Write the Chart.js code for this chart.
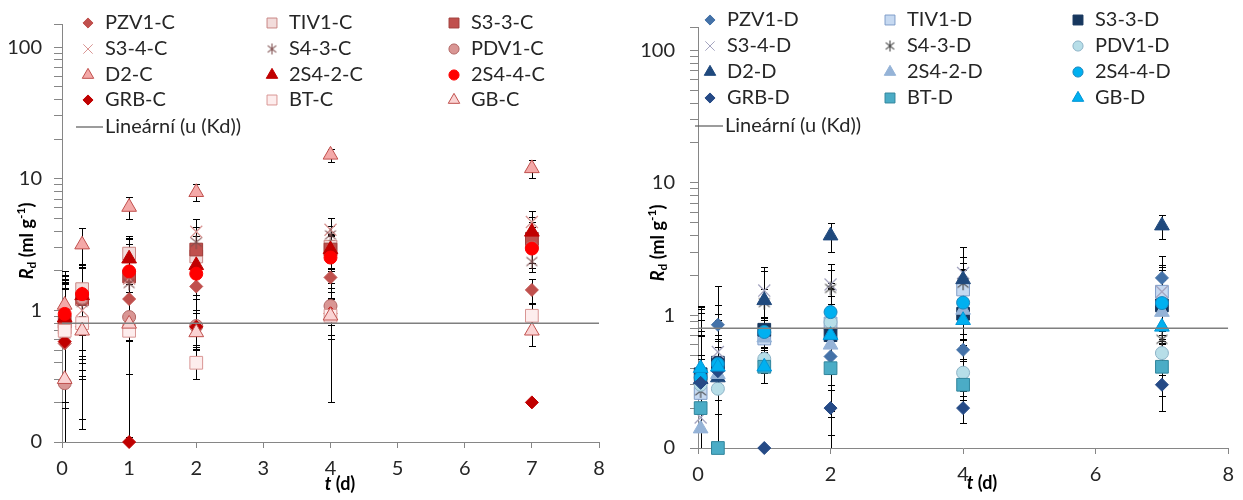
<!DOCTYPE html>
<html>
<head>
<meta charset="utf-8">
<script src="https://cdn.jsdelivr.net/npm/chart.js@4.4.1/dist/chart.umd.min.js"></script>
<style>
  html, body { margin: 0; padding: 0; background: #fff; }
  #wrap { position: relative; width: 1243px; height: 500px; }
  #wrap canvas { position: absolute; top: 0; }
  #chartC { left: 0; }
  #chartD { left: 620px; }
</style>
</head>
<body>
<div id="wrap">
  <canvas id="chartC" width="620" height="500"></canvas>
  <canvas id="chartD" width="623" height="500"></canvas>
</div>
<script>
// sampling times (d)
const days = [0.04, 0.3, 1, 2, 4, 7];

// horizontal reference line u(Kd)
const trendName = 'Lineární (u (Kd))';
const trendX = [0, 8];
const trendY = [0.8, 0.8];

// y axis labels (Excel shows 0.1 as "0")
const yLabelValues = [0.1, 1, 10, 100];
const yLabelTexts = ['0', '1', '10', '100'];
const yMin = 0.1;
const yMax = 150;

// ---- C series ----
const namesC = ['PZV1-C', 'TIV1-C', 'S3-3-C', 'S3-4-C', 'S4-3-C', 'PDV1-C',
  'D2-C', '2S4-2-C', '2S4-4-C', 'GRB-C', 'BT-C', 'GB-C'];
const rdC = [
  [0.56, 1.2, 1.22, 1.52, 1.78, 1.43],
  [0.74, 1.45, 2.7, 2.57, 3.05, 3.3],
  [0.82, 1.22, 1.81, 2.9, 2.9, 3.5],
  [0.62, 1.0, 1.75, 3.96, 4.1, 4.7],
  [0.66, 1.15, 1.6, 3.3, 3.75, 2.35],
  [0.28, 1.25, 0.89, 0.76, 1.08, 3.0],
  [1.1, 3.16, 6.1, 7.9, 15.2, 12.0],
  [0.88, 1.3, 2.47, 2.2, 2.9, 3.95],
  [0.94, 1.33, 1.98, 1.9, 2.52, 2.95],
  [0.58, 0.75, 0.1, 0.75, 0.95, 0.2],
  [0.7, 0.8, 0.7, 0.4, 0.91, 0.91],
  [0.3, 0.7, 0.79, 0.68, 0.91, 0.7]
];
const errC = [
  [0.9, 0.9, 0.5, 0.3, 0.3, 0.3],
  [0.9, 0.8, 1.0, 0.6, 0.7, 1.0],
  [0.9, 0.9, 1.7, 0.8, 0.8, 1.2],
  [1.0, 0.6, 1.0, 0.95, 0.9, 1.0],
  [1.2, 1.0, 1.0, 1.0, 0.6, 0.4],
  [0.4, 0.9, 0.3, 0.25, 0.3, 0.9],
  [0.9, 1.04, 1.15, 1.15, 1.75, 1.8],
  [0.7, 0.85, 1.1, 0.9, 0.9, 1.2],
  [0.9, 0.9, 1.2, 0.9, 0.9, 1.0],
  [0.9, 0.35, 0, 0.2, 0.3, 0],
  [1.0, 0.674, 0.9, 0.1, 0.71, 0.2],
  [0.4, 0.2, 0.46, 0.15, 0.3, 0.16]
];

// ---- D series ----
const namesD = ['PZV1-D', 'TIV1-D', 'S3-3-D', 'S3-4-D', 'S4-3-D', 'PDV1-D',
  'D2-D', '2S4-2-D', '2S4-4-D', 'GRB-D', 'BT-D', 'GB-D'];
const rdD = [
  [0.32, 0.85, 0.75, 0.49, 0.55, 1.92],
  [0.26, 0.42, 0.67, 0.87, 1.57, 1.51],
  [0.36, 0.44, 0.78, 0.71, 1.03, 1.19],
  [0.17, 0.53, 1.54, 1.71, 2.09, 1.51],
  [0.27, 0.42, 1.25, 1.6, 1.75, 0.66],
  [0.3, 0.28, 0.47, 0.89, 0.37, 0.52],
  [0.33, 0.34, 1.3, 4.0, 1.87, 4.76],
  [0.14, 0.36, 0.68, 0.6, 1.1, 1.06],
  [0.34, 0.43, 0.75, 1.06, 1.25, 1.24],
  [0.31, 0.38, 0.1, 0.2, 0.2, 0.3],
  [0.2, 0.1, 0.41, 0.4, 0.3, 0.41],
  [0.4, 0.41, 0.41, 0.71, 0.92, 0.82]
];
const errD = [
  [0.8, 0.82, 0.2, 0.3, 0.1, 0.9],
  [0.5, 0.5, 0.15, 0.7, 0.9, 0.8],
  [0.8, 0.76, 0.2, 0.9, 0.8, 1.0],
  [0.3, 0.3, 0.76, 0.74, 1.2, 0.9],
  [0.9, 0.78, 0.33, 0.6, 0.5, 0.1],
  [0.4, 0.2, 0.1, 0.5, 0.1, 0.1],
  [0.6, 0.3, 0.87, 1.0, 0.9, 1.0],
  [0.2, 0.3, 0.15, 0.3, 0.5, 0.4],
  [0.7, 0.6, 0.2, 0.7, 0.95, 0.6],
  [0.4, 0.2, 0, 0.074, 0.046, 0.055],
  [0.3, 0, 0.1, 0.2, 0.1, 0.1],
  [0.65, 0.3, 0.1, 0.5, 0.2, 0.2]
];

// marker look, same order as the names
const shapes = ['rectRot', 'rect', 'rect', 'crossRot', 'asterisk', 'circle',
  'triangle', 'triangle', 'circle', 'rectRot', 'rect', 'triangle'];
const markerRadius = { rectRot: 6.5, rect: 9, crossRot: 8.5, asterisk: 7, circle: 6.5, triangle: 8.5 };

const fillC = ['#C0504D', '#F2DCDB', '#C0504D', '#D99694', '#7F4F4F', '#D99694',
  '#F4A9A8', '#C00000', '#FF0000', '#C00000', '#FDEDED', '#FAD3D3'];
const lineC = ['#C0504D', '#C98684', '#A03E3B', '#D99694', '#7F4F4F', '#B26664',
  '#C0504D', '#C00000', '#FF0000', '#C00000', '#D99694', '#C0504D'];

const fillD = ['#4472A8', '#C6D9F1', '#17375E', '#A5A5C0', '#404040', '#B7DEE8',
  '#1F497D', '#95B3D7', '#00B0F0', '#254A86', '#4BACC6', '#00B0F0'];
const lineD = ['#4472A8', '#7F9DC9', '#17375E', '#A5A5C0', '#404040', '#8DB3C7',
  '#1F497D', '#95B3D7', '#1A86BE', '#254A86', '#31859C', '#0095D6'];

const fontFamily = 'Lato, "Open Sans", sans-serif';
const fontSize = 20;
const textColor = '#262626';
const axisColor = '#868686';

const panelC = {
  canvas: 'chartC', names: namesC, values: rdC, errors: errC, fills: fillC, lines: lineC,
  xStep: 1, yAxisWidth: 62, xAxisHeight: 58, padTop: 20, padRight: 21, yLabelPad: 12,
  legendCols: [88, 272, 454], legendRows: [23, 49, 75, 100], trendRow: 127, trendLine: [76, 103],
  yTitle: [27, 241], xTitle: [340, 484]
};
const panelD = {
  canvas: 'chartD', names: namesD, values: rdD, errors: errD, fills: fillD, lines: lineD,
  xStep: 2, yAxisWidth: 78, xAxisHeight: 52, padTop: 18, padRight: 13, yLabelPad: 15,
  legendCols: [90, 270, 458], legendRows: [20, 46, 72, 98], trendRow: 126, trendLine: [75, 103],
  yTitle: [38, 243], xTitle: [362, 483]
};

function asteriskCanvas(color, r) {
  const size = Math.ceil(r * 2) + 2;
  const c = document.createElement('canvas');
  c.width = size;
  c.height = size;
  const g = c.getContext('2d');
  const m = size / 2;
  const d = r * 0.78;
  g.strokeStyle = color;
  g.lineWidth = 1.1;
  g.beginPath();
  g.moveTo(m, m - r); g.lineTo(m, m + r);
  g.moveTo(m - d, m - d * 0.8); g.lineTo(m + d, m + d * 0.8);
  g.moveTo(m - d, m + d * 0.8); g.lineTo(m + d, m - d * 0.8);
  g.stroke();
  return c;
}

// marker path used for the legend (same geometry as Chart.js)
function drawMarker(ctx, shape, x, y, r, fill, stroke) {
  ctx.save();
  ctx.fillStyle = fill;
  ctx.strokeStyle = stroke;
  ctx.lineWidth = 1;
  ctx.beginPath();
  if (shape === 'circle') {
    ctx.arc(x, y, r, 0, Math.PI * 2);
  } else if (shape === 'rect') {
    const s = r * Math.SQRT1_2;
    ctx.rect(x - s, y - s, 2 * s, 2 * s);
  } else if (shape === 'rectRot') {
    ctx.moveTo(x - r, y); ctx.lineTo(x, y - r); ctx.lineTo(x + r, y); ctx.lineTo(x, y + r);
    ctx.closePath();
  } else if (shape === 'triangle') {
    ctx.moveTo(x, y - r);
    ctx.lineTo(x + Math.sin(Math.PI * 2 / 3) * r, y + r / 2);
    ctx.lineTo(x - Math.sin(Math.PI * 2 / 3) * r, y + r / 2);
    ctx.closePath();
  } else if (shape === 'crossRot') {
    const o = r * Math.SQRT1_2;
    ctx.moveTo(x - o, y - o); ctx.lineTo(x + o, y + o);
    ctx.moveTo(x - o, y + o); ctx.lineTo(x + o, y - o);
    ctx.stroke();
    ctx.restore();
    return;
  } else if (shape === 'asterisk') {
    const img = asteriskCanvas(stroke, r);
    ctx.drawImage(img, x - img.width / 2, y - img.height / 2);
    ctx.restore();
    return;
  }
  ctx.fill();
  ctx.stroke();
  ctx.restore();
}

const errorBarPlugin = {
  id: 'errorBars',
  beforeDatasetsDraw(chart) {
    const { ctx, chartArea } = chart;
    const xs = chart.scales.x;
    const ys = chart.scales.y;
    ctx.save();
    ctx.strokeStyle = '#000';
    ctx.lineWidth = 1;
    chart.data.datasets.forEach(ds => {
      if (!ds.errors) return;
      ds.data.forEach((pt, i) => {
        const e = ds.errors[i];
        if (!e) return;
        const px = Math.round(xs.getPixelForValue(pt.x)) + 0.5;
        const top = Math.round(ys.getPixelForValue(pt.y + e)) + 0.5;
        const low = pt.y - e;
        const hasLowCap = low > yMin;
        const bottom = hasLowCap ? Math.round(ys.getPixelForValue(low)) + 0.5 : chartArea.bottom;
        ctx.beginPath();
        ctx.moveTo(px, top);
        ctx.lineTo(px, bottom);
        ctx.moveTo(px - 3.5, top);
        ctx.lineTo(px + 3.5, top);
        if (hasLowCap) {
          ctx.moveTo(px - 3.5, bottom);
          ctx.lineTo(px + 3.5, bottom);
        }
        ctx.stroke();
      });
    });
    ctx.restore();
  }
};

function legendPlugin(panel) {
  return {
    id: 'gridLegend',
    afterDraw(chart) {
      const ctx = chart.ctx;
      ctx.save();
      ctx.font = fontSize + 'px ' + fontFamily;
      ctx.textBaseline = 'middle';
      ctx.fillStyle = textColor;
      panel.names.forEach((name, i) => {
        const mx = panel.legendCols[i % 3];
        const my = panel.legendRows[Math.floor(i / 3)];
        const shape = shapes[i];
        drawMarker(ctx, shape, mx, my, markerRadius[shape] * 0.78, panel.fills[i], panel.lines[i]);
        ctx.fillText(name, mx + 17, my);
      });
      ctx.strokeStyle = '#595959';
      ctx.lineWidth = 1.2;
      ctx.beginPath();
      ctx.moveTo(panel.trendLine[0], panel.trendRow);
      ctx.lineTo(panel.trendLine[1], panel.trendRow);
      ctx.stroke();
      ctx.fillText(trendName, panel.trendLine[1] + 2, panel.trendRow);
      ctx.restore();
    }
  };
}

// draws text made of differently styled runs, centred on (0,0)
function drawRuns(ctx, runs) {
  let total = 0;
  runs.forEach(r => { ctx.font = r.font; r.w = ctx.measureText(r.t).width; total += r.w; });
  let x = -total / 2;
  runs.forEach(r => {
    ctx.font = r.font;
    ctx.fillText(r.t, x, r.dy || 0);
    x += r.w;
  });
}

function titlePlugin(panel) {
  return {
    id: 'axisTitles',
    afterDraw(chart) {
      const ctx = chart.ctx;
      const big = 'bold 18px ' + fontFamily;
      const small = 'bold 12px ' + fontFamily;
      ctx.save();
      ctx.fillStyle = '#000';
      ctx.textBaseline = 'middle';
      ctx.translate(panel.yTitle[0], panel.yTitle[1]);
      ctx.rotate(-Math.PI / 2);
      drawRuns(ctx, [
        { t: 'R', font: 'italic ' + big },
        { t: 'd', font: small, dy: 5 },
        { t: ' (ml g', font: big },
        { t: '-1', font: small, dy: -6 },
        { t: ')', font: big }
      ]);
      ctx.restore();
      ctx.save();
      ctx.fillStyle = '#000';
      ctx.textBaseline = 'middle';
      ctx.translate(panel.xTitle[0], panel.xTitle[1]);
      drawRuns(ctx, [
        { t: 't', font: 'italic ' + big },
        { t: ' (d)', font: big }
      ]);
      ctx.restore();
    }
  };
}

function buildYTicks() {
  const ticks = [];
  [0.1, 1, 10].forEach(base => {
    for (let m = 1; m < 10; m += 1) ticks.push(Number((m * base).toPrecision(3)));
  });
  ticks.push(100, yMax);
  return ticks;
}

function seriesDatasets(panel) {
  return panel.names.map((name, i) => {
    const shape = shapes[i];
    const r = markerRadius[shape];
    return {
      label: name,
      data: days.map((d, j) => ({ x: d, y: panel.values[i][j] })),
      errors: panel.errors[i],
      pointStyle: shape === 'asterisk' ? asteriskCanvas(panel.lines[i], r) : shape,
      pointRadius: r,
      pointHoverRadius: r,
      backgroundColor: panel.fills[i],
      borderColor: panel.lines[i],
      pointBorderWidth: shape === 'crossRot' ? 1.3 : 1,
      showLine: false,
      clip: false,
      order: panel.names.length - i
    };
  });
}

function buildChart(panel) {
  const datasets = seriesDatasets(panel);
  datasets.push({
    label: trendName,
    data: trendX.map((x, i) => ({ x, y: trendY[i] })),
    showLine: true,
    borderColor: '#7F7F7F',
    borderWidth: 1.5,
    pointRadius: 0,
    fill: false,
    order: 0
  });

  const yTicks = buildYTicks();

  return new Chart(document.getElementById(panel.canvas), {
    type: 'scatter',
    data: { datasets },
    options: {
      responsive: false,
      animation: false,
      events: [],
      layout: { padding: { top: panel.padTop, right: panel.padRight, left: 0, bottom: 0 } },
      plugins: {
        legend: { display: false },
        tooltip: { enabled: false }
      },
      scales: {
        x: {
          type: 'linear',
          min: 0,
          max: 8,
          afterFit: scale => { scale.height = panel.xAxisHeight; },
          ticks: { stepSize: panel.xStep, color: textColor, padding: 9, font: { family: fontFamily, size: fontSize } },
          grid: { drawOnChartArea: false, tickLength: 6, color: axisColor },
          border: { color: axisColor, width: 1 }
        },
        y: {
          type: 'logarithmic',
          min: yMin,
          max: yMax,
          afterFit: scale => { scale.width = panel.yAxisWidth; },
          afterBuildTicks: scale => { scale.ticks = yTicks.map(v => ({ value: v })); },
          ticks: {
            autoSkip: false,
            color: textColor,
            padding: panel.yLabelPad,
            font: { family: fontFamily, size: fontSize },
            callback: value => {
              const k = yLabelValues.findIndex(v => Math.abs(v - value) < 1e-9);
              return k >= 0 ? yLabelTexts[k] : '';
            }
          },
          grid: { drawOnChartArea: false, tickLength: 8, color: axisColor },
          border: { color: axisColor, width: 1 }
        }
      }
    },
    plugins: [errorBarPlugin, legendPlugin(panel), titlePlugin(panel)]
  });
}

buildChart(panelC);
buildChart(panelD);
</script>
</body>
</html>
